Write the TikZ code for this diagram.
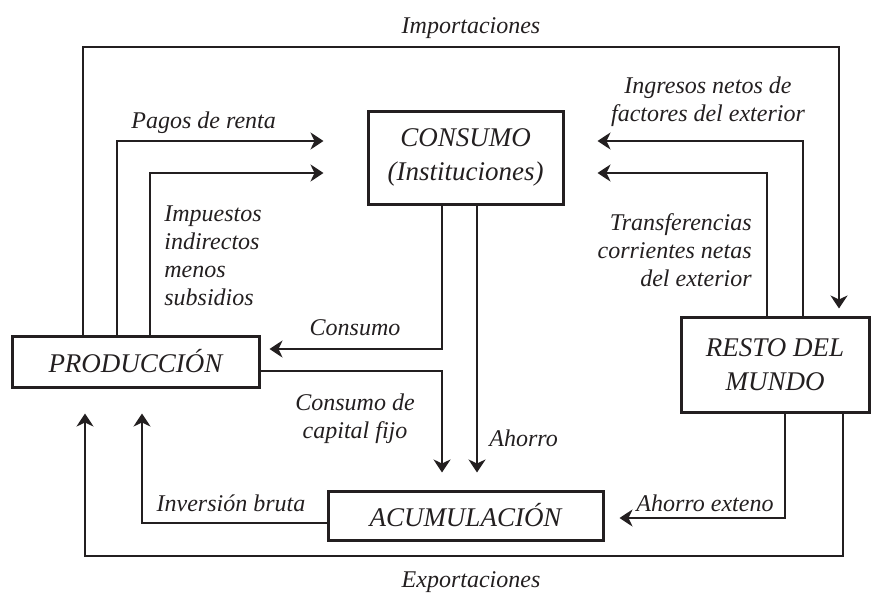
\documentclass[tikz,border=0pt]{standalone}
\usepackage{fontspec}
\setmainfont{Liberation Serif}
\usetikzlibrary{arrows.meta}
\definecolor{ink}{RGB}{35,31,32}
\tikzset{
  box/.style={draw=ink, line width=1.5pt, inner sep=0pt, align=center, text=ink,
    font=\fontsize{13.5}{17}\selectfont\itshape},
  lbl/.style={inner sep=0pt, text=ink, font=\fontsize{12}{14}\selectfont\itshape},
  flow/.style={draw=ink, line width=1.1pt, -{Stealth[length=6.5pt,width=8.5pt,inset=2pt]}}
}
\begin{document}
\begin{tikzpicture}[x=0.5pt,y=-0.5pt]
\useasboundingbox (0,0) rectangle (871,599);
% sectores
\node[box, minimum width=123.5pt, minimum height=25.5pt] (prod) at (135.5,361.5) {PRODUCCIÓN};
\node[box, minimum width=97.5pt, minimum height=46.5pt] (cons) at (465.5,157.5) {CONSUMO\\(Instituciones)};
\node[box, minimum width=137.5pt, minimum height=24.5pt] (acum) at (465.5,515.5) {ACUMULACIÓN};
\node[box, minimum width=94pt, minimum height=47.5pt] (resto) at (775,364.5) {RESTO DEL\\MUNDO};
\coordinate (imptop) at (471,47);
\coordinate (expbot) at (471,556);
% flujos
\draw[flow, shorten >=3.5pt] (prod.north -| 83,0) |- (imptop) -| (resto.north -| 839,0);
\draw[flow, shorten >=21.5pt] (prod.north -| 117,0) |- (cons.west |- 0,141);
\draw[flow, shorten >=21.5pt] (prod.north -| 150,0) |- (cons.west |- 0,173);
\draw[flow, shorten >=16.5pt] (resto.north -| 803,0) |- (cons.east |- 0,141);
\draw[flow, shorten >=16.5pt] (resto.north -| 767,0) |- (cons.east |- 0,173);
\draw[flow, shorten >=4.5pt] (cons.south -| 442,0) |- (prod.east |- 0,349);
\draw[flow, shorten >=8.5pt] (prod.east |- 0,371) -| (acum.north -| 442,0);
\draw[flow, shorten >=8.5pt] (cons.south -| 477,0) -- (acum.north -| 477,0);
\draw[flow, shorten >=12.5pt] (acum.west |- 0,523) -| (prod.south -| 142,0);
\draw[flow, shorten >=7.5pt] (resto.south -| 785,0) |- (acum.east |- 0,518);
\draw[flow, shorten >=12.5pt] (resto.south -| 843,0) |- (expbot) -| (prod.south -| 85,0);
% etiquetas
\node[lbl] (limp) at (471,28) {Importaciones};
\node[lbl] (lexp) at (471,582) {Exportaciones};
\node[lbl, anchor=base west] (lpag) at (131,128) {Pagos de renta};
\node[lbl, anchor=west, align=left] (limpu) at (164,256) {Impuestos\\indirectos\\menos\\subsidios};
\node[lbl, align=center] (ling) at (708,102) {Ingresos netos de\\factores del exterior};
\node[lbl, anchor=east, align=right] (ltra) at (752,250) {Transferencias\\corrientes netas\\del exterior};
\node[lbl] (lcon) at (355,328) {Consumo};
\node[lbl, align=center] (lcap) at (355,419) {Consumo de\\capital fijo};
\node[lbl, anchor=west] (laho) at (489,438) {Ahorro};
\node[lbl] (linv) at (231,503) {Inversión bruta};
\node[lbl] (lahe) at (705,503) {Ahorro exteno};
\end{tikzpicture}
\end{document}
